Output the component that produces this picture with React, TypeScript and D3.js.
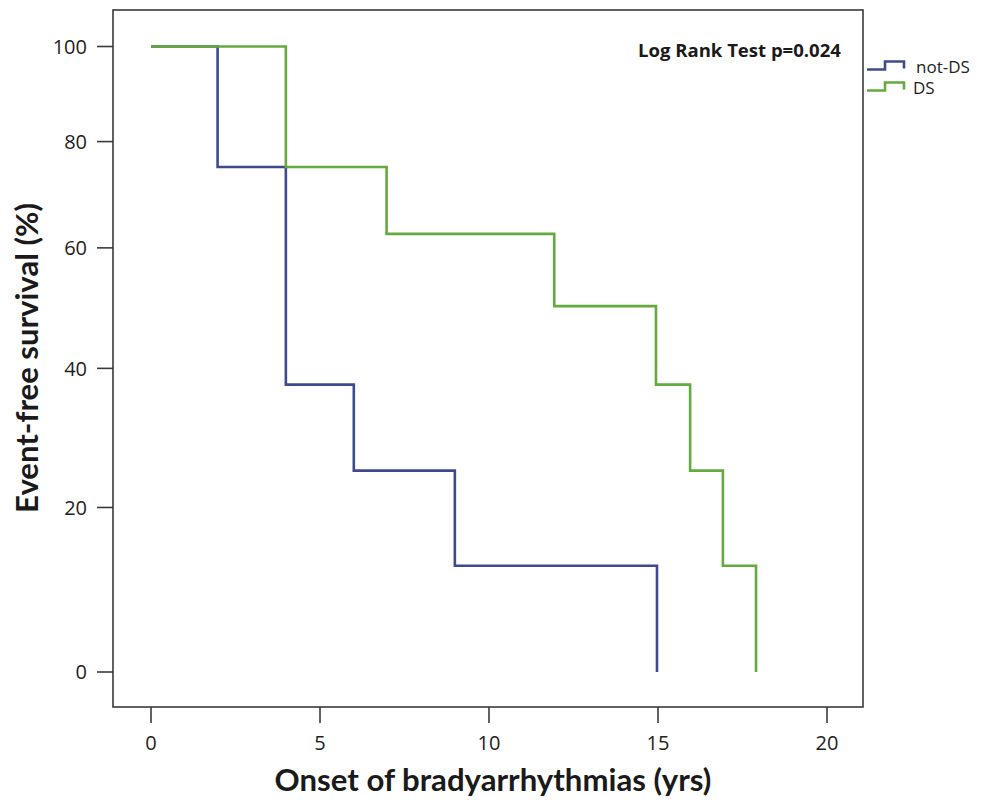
import React, { useEffect, useRef } from "react";
import * as d3 from "d3";

// Kaplan-Meier data
const notDsTimes = [0, 1.97, 3.99, 6.0, 8.99, 14.97];
const notDsSurvival = [100, 75, 37.5, 25, 12.5, 0];
const dsTimes = [0, 3.99, 6.97, 11.93, 14.94, 15.95, 16.92, 17.9];
const dsSurvival = [100, 75, 62.5, 50, 37.5, 25, 12.5, 0];

const seriesNames = ["not-DS", "DS"];
const seriesColors = ["#3f4a8e", "#63aa3f"];
const xTicks = [0, 5, 10, 15, 20];
const yTicks = [0, 20, 40, 60, 80, 100];
const xTitle = "Onset of bradyarrhythmias (yrs)";
const yTitle = "Event-free survival (%)";
const annotation = "Log Rank Test p=0.024";

const W = 990;
const H = 803;
const FONT = "'Open Sans', sans-serif";
const TITLE_FONT = "Lato, 'Open Sans', sans-serif";

export default function App() {
  const ref = useRef<SVGSVGElement | null>(null);

  useEffect(() => {
    const svg = d3.select(ref.current);
    svg.selectAll("*").remove();

    const frame = { left: 113, top: 10, right: 863, bottom: 707 };
    const x = d3.scaleLinear().domain([0, 20]).range([151, 827]);
    const y = d3.scaleSymlog().constant(100).domain([0, 100]).range([672, 46.5]);

    const fit = (sel: any, target: number) => {
      const node = sel.node() as SVGTextElement;
      const w = node.getComputedTextLength();
      const fs = parseFloat(sel.attr("font-size"));
      if (w > 0) sel.attr("font-size", (fs * target) / w);
    };

    // frame
    svg
      .append("rect")
      .attr("x", frame.left)
      .attr("y", frame.top)
      .attr("width", frame.right - frame.left)
      .attr("height", frame.bottom - frame.top)
      .attr("fill", "none")
      .attr("stroke", "#3a3a3a")
      .attr("stroke-width", 1.6);

    // y ticks
    const yg = svg.append("g");
    yTicks.forEach((t) => {
      yg.append("line")
        .attr("x1", 97)
        .attr("x2", frame.left)
        .attr("y1", y(t))
        .attr("y2", y(t))
        .attr("stroke", "#3a3a3a")
        .attr("stroke-width", 1.6);
      yg.append("text")
        .attr("x", 87)
        .attr("y", y(t))
        .attr("dy", "0.36em")
        .attr("text-anchor", "end")
        .attr("font-family", FONT)
        .attr("font-size", 20)
        .attr("fill", "#222")
        .text(String(t));
    });

    // x ticks
    const xg = svg.append("g");
    xTicks.forEach((t) => {
      xg.append("line")
        .attr("x1", x(t))
        .attr("x2", x(t))
        .attr("y1", frame.bottom)
        .attr("y2", 723)
        .attr("stroke", "#3a3a3a")
        .attr("stroke-width", 1.6);
      xg.append("text")
        .attr("x", x(t))
        .attr("y", 750)
        .attr("text-anchor", "middle")
        .attr("font-family", FONT)
        .attr("font-size", 20)
        .attr("fill", "#222")
        .text(String(t));
    });

    // curves
    const line = d3
      .line<[number, number]>()
      .x((d) => x(d[0]))
      .y((d) => y(d[1]))
      .curve(d3.curveStepAfter);

    const series = [
      notDsTimes.map((t, i) => [t, notDsSurvival[i]] as [number, number]),
      dsTimes.map((t, i) => [t, dsSurvival[i]] as [number, number]),
    ];
    series.forEach((pts, i) => {
      svg
        .append("path")
        .attr("d", line(pts) as string)
        .attr("fill", "none")
        .attr("stroke", seriesColors[i])
        .attr("stroke-width", 2.6)
        .attr("stroke-linejoin", "miter")
        .attr("stroke-linecap", "butt");
    });

    // annotation
    const ann = svg
      .append("text")
      .attr("x", 638)
      .attr("y", 57)
      .attr("font-family", FONT)
      .attr("font-weight", "bold")
      .attr("font-size", 17)
      .attr("fill", "#1a1a1a")
      .text(annotation);
    fit(ann, 203);

    // legend
    const legendRows = [
      { y: 69.5, textX: 916 },
      { y: 90.5, textX: 913 },
    ];
    seriesNames.forEach((name, i) => {
      const r = legendRows[i];
      const icon: [number, number][] = [
        [867, r.y],
        [885, r.y],
        [885, r.y - 8],
        [904, r.y - 8],
        [904, r.y - 1],
      ];
      svg
        .append("path")
        .attr("d", d3.line()(icon) as string)
        .attr("fill", "none")
        .attr("stroke", seriesColors[i])
        .attr("stroke-width", 2.6);
      svg
        .append("text")
        .attr("x", r.textX)
        .attr("y", r.y + 3)
        .attr("font-family", FONT)
        .attr("font-size", 17)
        .attr("fill", "#222")
        .text(name);
    });

    // axis titles
    const xt = svg
      .append("text")
      .attr("x", 493)
      .attr("y", 791)
      .attr("text-anchor", "middle")
      .attr("font-family", TITLE_FONT)
      .attr("font-weight", "bold")
      .attr("font-size", 28)
      .attr("fill", "#1a1a1a")
      .text(xTitle);
    fit(xt, 437);

    const yt = svg
      .append("text")
      .attr("transform", "translate(38,358) rotate(-90)")
      .attr("text-anchor", "middle")
      .attr("font-family", TITLE_FONT)
      .attr("font-weight", "bold")
      .attr("font-size", 28)
      .attr("fill", "#1a1a1a")
      .text(yTitle);
    fit(yt, 310);
  }, []);

  return (
    <svg
      ref={ref}
      width={W}
      height={H}
      style={{ position: "absolute", left: 0, top: 0, background: "#fff" }}
    />
  );
}
